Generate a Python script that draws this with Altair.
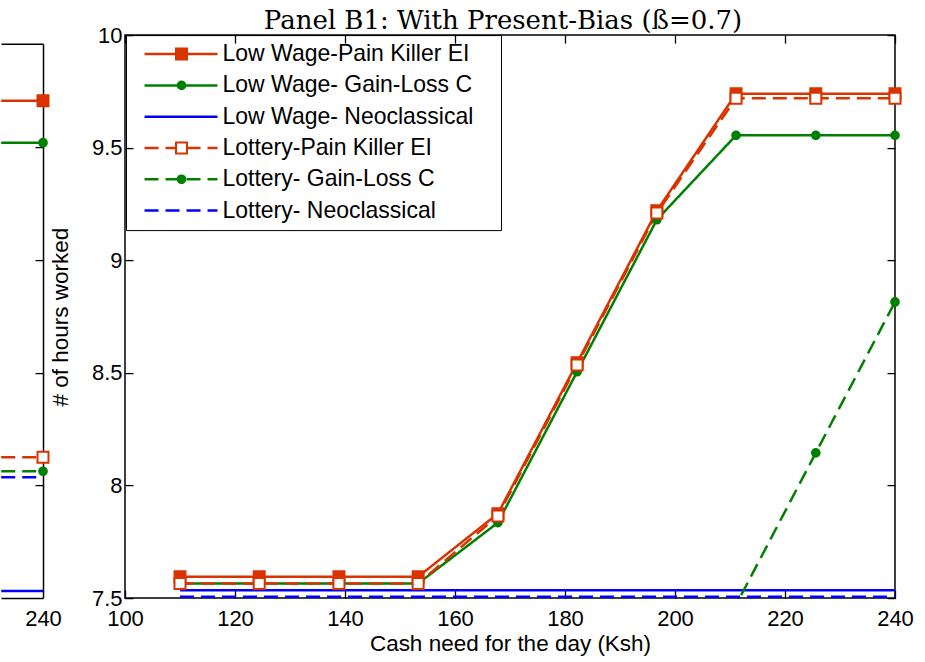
import altair as alt
import pandas as pd

# ---------------- data ----------------
SERIES = ["Low Wage-Pain Killer EI", "Low Wage- Gain-Loss C", "Low Wage- Neoclassical",
          "Lottery-Pain Killer EI", "Lottery- Gain-Loss C", "Lottery- Neoclassical"]
PKEYS = ["a", "b", "c", "d", "e", "f"]

# main panel (Panel B1)
x_main = [110, 124.4, 138.9, 153.3, 167.8, 182.2, 196.7, 211.1, 225.6, 240]
lw_pain = [7.595, 7.595, 7.595, 7.595, 7.875, 8.545, 9.22, 9.74, 9.74, 9.74]
lw_gain = [7.565, 7.565, 7.565, 7.565, 7.835, 8.505, 9.18, 9.555, 9.555, 9.555]
lw_neo = [7.535, 7.535, 7.535, 7.535, 7.535, 7.535, 7.535, 7.535, 7.535, 7.535]
lo_pain = [7.565, 7.565, 7.565, 7.565, 7.865, 8.535, 9.21, 9.72, 9.72, 9.72]
lo_gain = [7.47, 7.47, 7.47, 7.47, 7.47, 7.47, 7.47, 7.47, 8.145, 8.815]
lo_neo = [7.506, 7.506, 7.506, 7.506, 7.506, 7.506, 7.506, 7.506, 7.506, 7.506]

# cropped panel on the left: only its right end (x from about 232.4 to 240) is visible
x_left = [232.4, 240]
l_lw_pain = [9.707, 9.707]
l_lw_gain = [9.521, 9.521]
l_lw_neo = [7.531, 7.531]
l_lo_pain = [8.125, 8.125]
l_lo_gain = [8.063, 8.063]
l_lo_neo = [8.036, 8.036]

x_ticks = [100, 120, 140, 160, 180, 200, 220, 240]
y_ticks = [7.5, 8, 8.5, 9, 9.5, 10]

# ---------------- styles ----------------
RED, GREEN, BLUE = "#D93300", "#008000", "#0000FF"
COLORS = [RED, GREEN, BLUE, RED, GREEN, BLUE]
DASHES = [[1, 0], [1, 0], [1, 0], [14, 7], [14, 7], [14, 7]]
SQ = "M-1,-1H1V1H-1Z"
CI = "M0.7,0A0.7,0.7,0,1,1,-0.7,0A0.7,0.7,0,1,1,0.7,0Z"
NO = "M0,0"
SHAPES = [SQ, CI, NO, SQ, CI, NO]
FILLS = [RED, GREEN, "transparent", "white", GREEN, "transparent"]
STROKES = [RED, GREEN, "transparent", RED, GREEN, "transparent"]
LEG_LINE = "M-6.35,0H6.35"
SANS = "Liberation Sans"


def table(xs, cols):
    rows = []
    for name, key, ys in zip(SERIES, PKEYS, cols):
        for xv, yv in zip(xs, ys):
            rows.append({"x": xv, "y": yv, "series": name, "pkey": key})
    return pd.DataFrame(rows)


df_main = table(x_main, [lw_pain, lw_gain, lw_neo, lo_pain, lo_gain, lo_neo])
df_left = table(x_left, [l_lw_pain, l_lw_gain, l_lw_neo, l_lo_pain, l_lo_gain, l_lo_neo])

color_scale = alt.Scale(domain=SERIES, range=COLORS)
dash_scale = alt.Scale(domain=SERIES, range=DASHES)
shape_scale = alt.Scale(domain=PKEYS, range=SHAPES)
fill_scale = alt.Scale(domain=PKEYS, range=FILLS)
stroke_scale = alt.Scale(domain=PKEYS, range=STROKES)

leg_line = alt.Legend(orient="none", legendX=1, legendY=0, title="MM", titleOrient="right",
                      titleColor="transparent", titleFontSize=6, titlePadding=10,
                      symbolType=LEG_LINE, symbolSize=132, symbolStrokeWidth=2.5,
                      labelFont=SANS, labelFontSize=23, labelColor="black", labelOffset=30,
                      labelLimit=500, padding=7.5, rowPadding=7.3, strokeColor="black",
                      symbolOffset=36)
leg_pt = alt.Legend(orient="none", legendX=1, legendY=0, title=None,
                    symbolSize=121, symbolStrokeWidth=2,
                    labelFont=SANS, labelFontSize=23, labelColor="transparent", labelOffset=10,
                    labelLimit=500, padding=7.5, rowPadding=7.3, symbolOffset=36.5)

# ---------------- main panel ----------------
xs_main = alt.Scale(domain=[100, 240], nice=False, zero=False)
ys_main = alt.Scale(domain=[7.5, 10], nice=False, zero=False)

base = alt.Chart(df_main)

lines = base.mark_line(strokeWidth=2.5, clip=True).encode(
    x=alt.X("x:Q", scale=xs_main,
            axis=alt.Axis(orient="bottom", values=x_ticks, format="d", domain=False, grid=False,
                          ticks=True, tickSize=8, offset=-8, labelPadding=10.5, labelFlush=False,
                          title="Cash need for the day (Ksh)", titlePadding=3)),
    y=alt.Y("y:Q", scale=ys_main,
            axis=alt.Axis(orient="left", values=y_ticks, format="~g", domain=False, grid=False,
                          ticks=True, tickSize=8, offset=-8, labelPadding=3, labelFlush=False,
                          title="# of hours worked", titlePadding=19)),
    color=alt.Color("series:N", scale=color_scale, legend=leg_line),
    strokeDash=alt.StrokeDash("series:N", scale=dash_scale, legend=leg_line),
)

points = base.transform_filter("datum.y >= 7.5").mark_point(
    size=121, strokeWidth=2, opacity=1, fillOpacity=1).encode(
    x=alt.X("x:Q", scale=xs_main, axis=None),
    y=alt.Y("y:Q", scale=ys_main, axis=None),
    shape=alt.Shape("pkey:N", scale=shape_scale, legend=leg_pt),
    fill=alt.Fill("pkey:N", scale=fill_scale, legend=leg_pt),
    stroke=alt.Stroke("pkey:N", scale=stroke_scale, legend=leg_pt),
)

mirror = base.mark_line(opacity=0).encode(
    x=alt.X("x:Q", scale=xs_main,
            axis=alt.Axis(orient="top", values=x_ticks, labels=False, domain=False, grid=False,
                          ticks=True, tickSize=8, offset=-8, title=None)),
    y=alt.Y("y:Q", scale=ys_main,
            axis=alt.Axis(orient="right", values=y_ticks, labels=False, domain=False, grid=False,
                          ticks=True, tickSize=8, offset=-8, title=None)),
)

main = alt.layer(lines, points, mirror).resolve_axis(x="independent", y="independent").properties(
    width=770, height=563,
    title=alt.Title("Panel B1: With Present-Bias (ß=0.7)", font="DejaVu Serif", fontSize=26,
                    fontWeight="normal", color="black", anchor="middle", frame="group",
                    offset=0, dx=-7, dy=9.8),
    view=alt.ViewBackground(stroke="black", strokeWidth=1.5),
)

# ---------------- cropped left panel ----------------
xs_left = alt.Scale(domain=[232.36, 240], nice=False, zero=False)
ys_left = alt.Scale(domain=[7.5, 9.96], range=[563, 8.7], nice=False, zero=False)
lbase = alt.Chart(df_left)

l_lines = lbase.mark_line(strokeWidth=2.5, clip=True).encode(
    x=alt.X("x:Q", scale=xs_left,
            axis=alt.Axis(orient="bottom", values=[240], format="d", domain=True, domainWidth=1.5,
                          ticks=False, grid=False, labelPadding=10.5, labelFlush=False, title=None)),
    y=alt.Y("y:Q", scale=ys_left,
            axis=alt.Axis(orient="right", domain=True, domainWidth=1.5, ticks=False, labels=False,
                          grid=False, title=None)),
    color=alt.Color("series:N", scale=color_scale, legend=None),
    strokeDash=alt.StrokeDash("series:N", scale=dash_scale, legend=None),
)
l_points = lbase.transform_filter("datum.x >= 239").mark_point(
    size=121, strokeWidth=2, opacity=1, fillOpacity=1).encode(
    x=alt.X("x:Q", scale=xs_left, axis=None),
    y=alt.Y("y:Q", scale=ys_left, axis=None),
    shape=alt.Shape("pkey:N", scale=shape_scale, legend=None),
    fill=alt.Fill("pkey:N", scale=fill_scale, legend=None),
    stroke=alt.Stroke("pkey:N", scale=stroke_scale, legend=None),
)
l_mirror = lbase.mark_line(opacity=0).encode(
    x=alt.X("x:Q", scale=xs_left,
            axis=alt.Axis(orient="top", domain=True, domainWidth=1.5, ticks=False, labels=False,
                          grid=False, offset=-8.7, title=None)),
    y=alt.Y("y:Q", scale=ys_left,
            axis=alt.Axis(orient="right", values=[8, 8.5, 9, 9.5], domain=False, ticks=True,
                          tickSize=8, offset=-8, labels=False, grid=False, title=None)),
)
left = alt.layer(l_lines, l_points, l_mirror).resolve_axis(x="independent", y="independent").properties(
    width=42, height=563, view=alt.ViewBackground(stroke="transparent"))

chart = alt.hconcat(left, main, spacing=82, bounds="flush").resolve_scale(
    color="independent", strokeDash="independent", fill="independent",
    stroke="independent", shape="independent"
).properties(
    padding={"left": 0, "top": 7.1, "right": 5, "bottom": 2}
).configure_axis(
    labelFont=SANS, labelFontSize=22, labelColor="black",
    titleFont=SANS, titleFontSize=22.5, titleFontWeight="normal", titleColor="black",
    tickColor="black", tickWidth=1.3, domainColor="black",
).configure_view(stroke="black")

chart.save("out.html", embed_options={"renderer": "svg", "actions": False})
